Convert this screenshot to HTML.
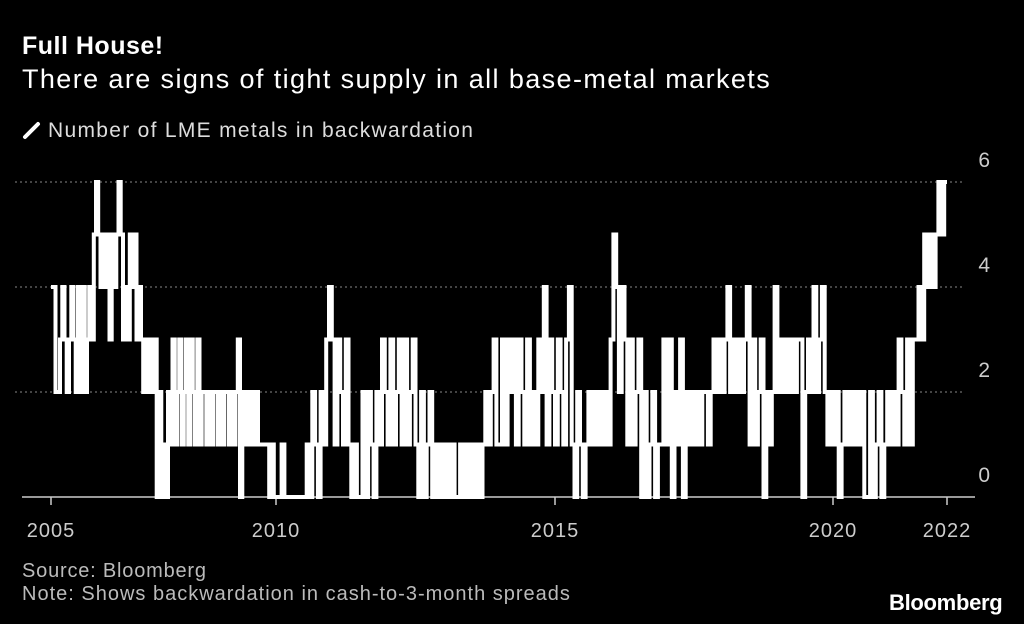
<!DOCTYPE html>
<html><head><meta charset="utf-8"><style>
body{margin:0;background:#000;width:1024px;height:624px;overflow:hidden;font-family:"Liberation Sans",sans-serif;color:#fff}
.t{position:absolute;white-space:nowrap}
</style></head><body>
<div class="t" style="left:22px;top:32px;font-size:25px;font-weight:bold;letter-spacing:0.5px">Full House!</div>
<div class="t" style="left:22px;top:64px;font-size:27px;letter-spacing:1.4px">There are signs of tight supply in all base-metal markets</div>
<div class="t" style="left:22px;top:119px;font-size:21px;letter-spacing:1.3px;color:#ddd"><svg width="26" height="20" style="vertical-align:-3px"><line x1="3" y1="17" x2="16" y2="4" stroke="#fff" stroke-width="4" stroke-linecap="round"/></svg>Number of LME metals in backwardation</div>
<svg id="c" width="1024" height="560" style="position:absolute;left:0;top:0"></svg>
<div class="t" style="left:22px;top:560px;font-size:20px;letter-spacing:0.8px;color:#bbb">Source: Bloomberg</div>
<div class="t" style="left:22px;top:583px;font-size:20px;letter-spacing:1.0px;color:#bbb">Note: Shows backwardation in cash-to-3-month spreads</div>
<div class="t" style="left:889px;top:590px;font-size:22px;font-weight:bold;letter-spacing:-0.3px">Bloomberg</div>
<script>
const yearStrings=["44223432343242423435","65454535456534354534","32323230201021312312","31321312212122121221","21230212121211111010","00100000000102102134","31321310100202102132","13123131231020120101","01010010101010121231","13132313213121324132","13213410210121212121","35424313123020120113","13021302121212212323","23423232341312302124","23232323302324234212","12012121212002012012","12132131334354545656"];
const yTicks=[0,2,4,6];
const xTickYears=[2005,2010,2015,2020,2022];
const xTickLabels=["2005","2010","2015","2020","2022"];
const ax=[[2005,51],[2010,276],[2015,555],[2020,833],[2022,947]];
function X(t){for(let i=0;i<ax.length-1;i++){if(t<=ax[i+1][0]){const a=ax[i],b=ax[i+1];return a[1]+(t-a[0])/(b[0]-a[0])*(b[1]-a[1]);}}const a=ax[3],b=ax[4];return a[1]+(t-a[0])/(b[0]-a[0])*(b[1]-a[1]);}
function Y(v){return 497-v*52.5;}
const svg=document.getElementById('c');const NS='http://www.w3.org/2000/svg';
function mk(tag,at){const e=document.createElementNS(NS,tag);for(const k in at)e.setAttribute(k,at[k]);svg.appendChild(e);return e;}
yTicks.forEach(v=>{
 if(v>0){const g=mk('line',{x1:15,x2:965,y1:Y(v),y2:Y(v),stroke:'#888','stroke-width':1,'stroke-dasharray':'2,3'});
 
 }
 const l=mk('text',{x:990,y:Y(v)-15,'text-anchor':'end','font-size':21,fill:'#ccc','font-family':'Liberation Sans'});l.textContent=v;
 
 
});
const axl=mk('line',{x1:22,x2:975,y1:497,y2:497,stroke:'#ccc','stroke-width':1.5});


xTickYears.forEach((yr,i)=>{
 const tk=mk('line',{x1:X(yr),x2:X(yr),y1:497,y2:505,stroke:'#ccc','stroke-width':1.5});
 
 
 const l=mk('text',{x:X(yr),y:537,'text-anchor':'middle','font-size':20,'letter-spacing':1,fill:'#ccc','font-family':'Liberation Sans'});l.textContent=xTickLabels[i];
 
 
});
let d='';let first=true;
yearStrings.forEach((s,yi)=>{const yr=2005+yi;for(let i=0;i<s.length;i++){const v=+s[i];const t0=yr+i/s.length,t1=yr+(i+1)/s.length;
 if(first){d+='M'+X(t0).toFixed(1)+','+Y(v);first=false;}else d+='V'+Y(v);
 d+='H'+X(t1).toFixed(1);}});
const p=mk('path',{d:d,fill:'none',stroke:'#fff','stroke-width':4,'stroke-linejoin':'miter'});


</script>
</body></html>
